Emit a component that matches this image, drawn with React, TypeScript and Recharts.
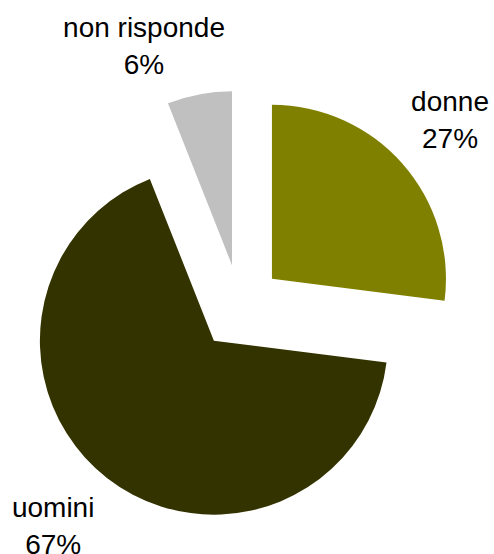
import { PieChart, Pie, Cell } from "recharts";

const categories = ["donne", "uomini", "non risponde"];
const shares = [27, 67, 6];

const COLORS = ["#808000", "#333300", "#c0c0c0"];

const WIDTH = 494;
const HEIGHT = 554;
const CX = 240;
const CY = 307;
const RADIUS = 174;
const EXPLODE = 42.6;
const LABEL_DIST = [275, 295, 269];
const LABEL_TURN = [-1.2, -1.5, 10.1];
const LINE_GAP = 18.5;
const RAD = Math.PI / 180;

const data = categories.map((name, i) => ({ name, value: shares[i] }));
const total = shares.reduce((a, b) => a + b, 0);

// mid angle of each slice (recharts degrees, clockwise from 12 o'clock)
const midAngles = shares.map((v, i) => {
  const before = shares.slice(0, i).reduce((a, b) => a + b, 0);
  return 90 - ((before + v / 2) / total) * 360;
});

const renderLabel = (k: number) => (props: any) => {
  if (props.index !== k) return <g />;
  const a = (props.midAngle + LABEL_TURN[k]) * RAD;
  const x = CX + LABEL_DIST[k] * Math.cos(a);
  const y = CY - LABEL_DIST[k] * Math.sin(a);
  return (
    <text
      x={x}
      y={y}
      textAnchor="middle"
      fill="#000"
      fontSize={28}
      fontFamily="'Liberation Sans', Arial, sans-serif"
    >
      <tspan x={x} y={y - LINE_GAP}>{props.name}</tspan>
      <tspan x={x} y={y + LINE_GAP}>{`${Math.round(props.percent * 100)}%`}</tspan>
    </text>
  );
};

export default function App() {
  return (
    <div style={{ position: "absolute", left: 0, top: 0, background: "#fff" }}>
      <PieChart width={WIDTH} height={HEIGHT} margin={{ top: 0, right: 0, bottom: 0, left: 0 }}>
        {midAngles.map((mid, k) => (
          <Pie
            key={k}
            data={data}
            dataKey="value"
            nameKey="name"
            cx={CX + EXPLODE * Math.cos(mid * RAD)}
            cy={CY - EXPLODE * Math.sin(mid * RAD)}
            innerRadius={0}
            outerRadius={RADIUS}
            startAngle={90}
            endAngle={-270}
            stroke="none"
            label={renderLabel(k)}
            labelLine={false}
            isAnimationActive={false}
          >
            {data.map((entry, i) => (
              <Cell key={`cell-${i}`} fill={i === k ? COLORS[i] : "none"} stroke="none" />
            ))}
          </Pie>
        ))}
      </PieChart>
    </div>
  );
}
